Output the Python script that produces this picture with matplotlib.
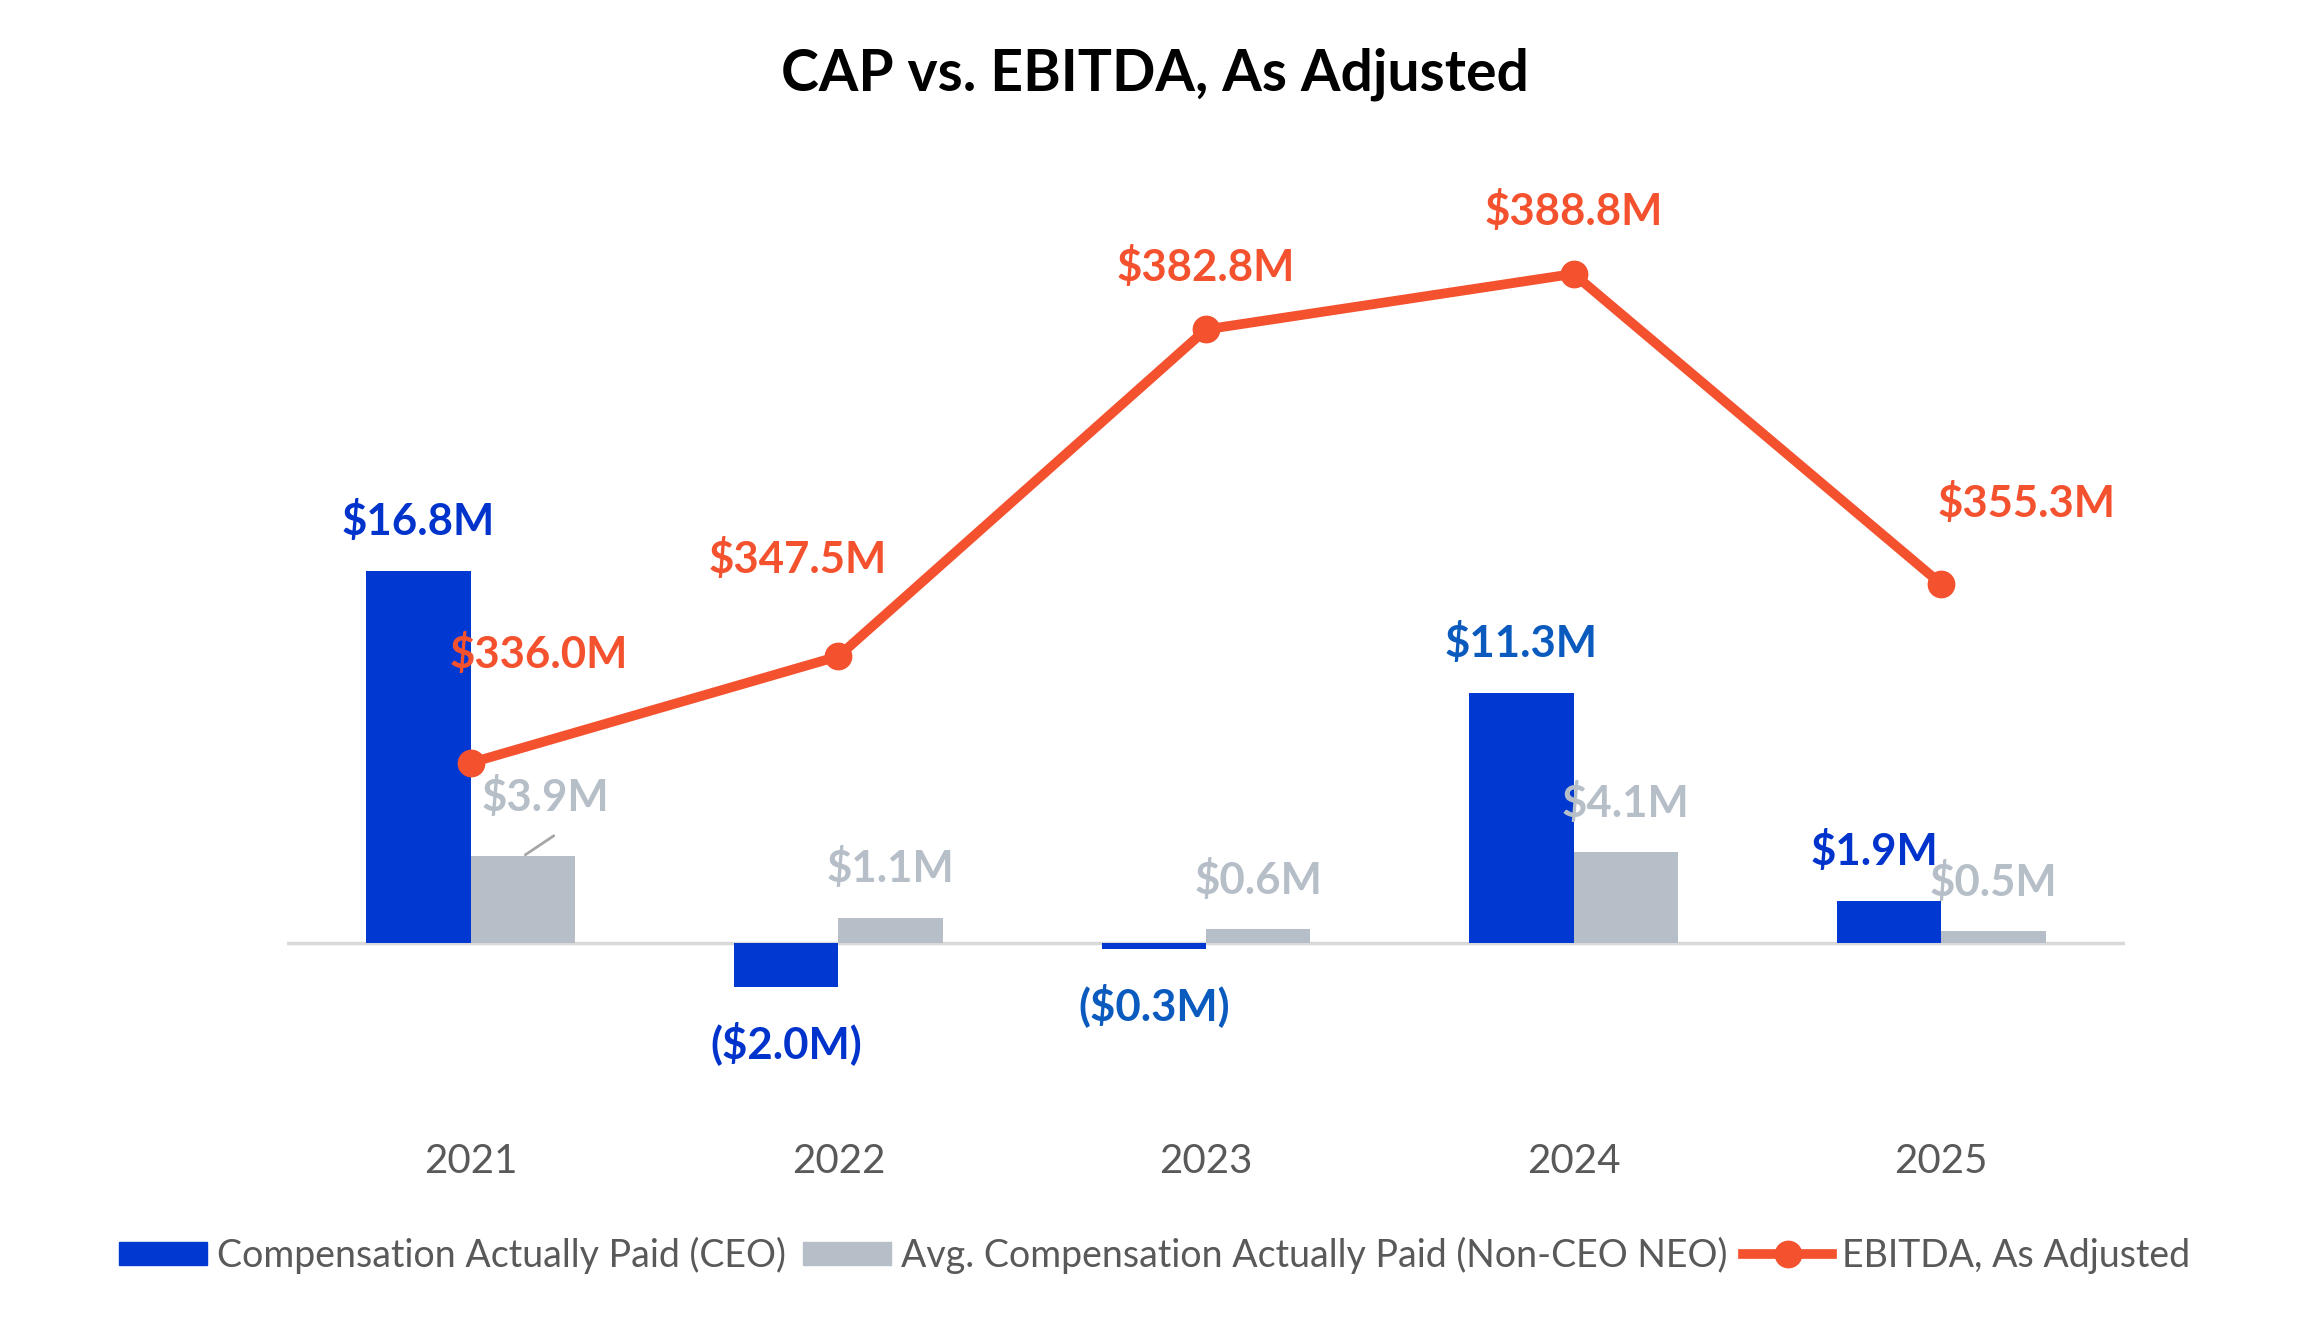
import matplotlib
matplotlib.use("Agg")
import matplotlib.pyplot as plt
from matplotlib.lines import Line2D
from matplotlib.patches import Patch
import numpy as np

years = ["2021", "2022", "2023", "2024", "2025"]
cap_ceo = [16.8, -2.0, -0.3, 11.3, 1.9]
cap_neo = [3.9, 1.1, 0.6, 4.1, 0.5]
ebitda = [336.0, 347.5, 382.8, 388.8, 355.3]

ceo_labels = ["$16.8M", "($2.0M)", "($0.3M)", "$11.3M", "$1.9M"]
neo_labels = ["$3.9M", "$1.1M", "$0.6M", "$4.1M", "$0.5M"]
ebitda_labels = ["$336.0M", "$347.5M", "$382.8M", "$388.8M", "$355.3M"]

BLUE = "#0039D2"
BLUE_LBL = ["#0033CC", "#0033CC", "#0B5BBF", "#0B5BBF", "#0033CC"]
GRAY = "#B6BEC8"
ORANGE = "#F4512F"
TXT = "#595959"

plt.rcParams['font.family'] = ['Lato', 'DejaVu Sans']

W, H = 2309, 1323
fig = plt.figure(figsize=(W / 100, H / 100), dpi=100)
# axes in pixel coordinates
left, right = 287, 2125
top, bottom = 150, 1100
ax = fig.add_axes([left / W, 1 - bottom / H, (right - left) / W, (bottom - top) / H])
ax2 = ax.twinx()

base_y = 942.5
ppm1 = 22.09
ax.set_ylim(-(bottom - base_y) / ppm1, (base_y - top) / ppm1)
ppm2 = 9.26
y336 = 762.8
ax2.set_ylim(336.0 - (bottom - y336) / ppm2, 336.0 + (y336 - top) / ppm2)

x = np.arange(len(years))
bw = 0.284
ax.bar(x - bw / 2, cap_ceo, width=bw, color=BLUE, zorder=2)
ax.bar(x + bw / 2, cap_neo, width=bw, color=GRAY, zorder=2)
ax.axhline(0, color="#D9D9D9", lw=2.5, zorder=1)
ax.set_xlim(-0.5, 4.5)

ax2.plot(x, ebitda, color=ORANGE, lw=7, marker="o", ms=19, zorder=3)

for a in (ax, ax2):
    for s in a.spines.values():
        s.set_visible(False)
    a.set_yticks([])
ax.set_xticks([])
ax2.set_zorder(ax.get_zorder() + 1)

# year labels below the axis
for i, yr in enumerate(years):
    ax.annotate(yr, (x[i], 0), xytext=(0, -219), textcoords="offset pixels",
                ha="center", va="center", fontsize=29, color=TXT)

lbl_fs = 31.5
# CEO labels
ceo_dx = [0, 0, 0, 0, -15]
for i, v in enumerate(cap_ceo):
    dy = 50 if v >= 0 else -56
    ax.annotate(ceo_labels[i], (x[i] - bw / 2, v), xytext=(ceo_dx[i], dy),
                textcoords="offset pixels", ha="center", va="center",
                fontsize=lbl_fs, fontweight="bold", color=BLUE_LBL[i])

# NEO labels
neo_dx = [22, 0, 0, 0, 0]
neo_dy = [59, 50, 49, 49, 49]
for i, v in enumerate(cap_neo):
    ax.annotate(neo_labels[i], (x[i] + bw / 2, v), xytext=(neo_dx[i], neo_dy[i]),
                textcoords="offset pixels", ha="center", va="center",
                fontsize=lbl_fs, fontweight="bold", color=GRAY)
# leader line for 2021 NEO label
ax.annotate("", xy=(x[0] + bw / 2, cap_neo[0]), xytext=(x[0] + bw / 2 + 0.09, cap_neo[0] + 1.0),
            arrowprops=dict(arrowstyle="-", color="#A6A6A6", lw=2))

# EBITDA labels
eb_off = [(68, 109), (-41, 97), (0, 62), (0, 63), (85, 81)]
for i, v in enumerate(ebitda):
    ax2.annotate(ebitda_labels[i], (x[i], v), xytext=eb_off[i], textcoords="offset pixels",
                 ha="center", va="center", fontsize=lbl_fs, fontweight="bold", color=ORANGE)

fig.text(0.5, 1 - 74 / H, "CAP vs. EBITDA, As Adjusted", ha="center", va="center",
         fontsize=41, fontweight="bold", color="black")

handles = [Patch(color=BLUE, label="Compensation Actually Paid (CEO)"),
           Patch(color=GRAY, label="Avg. Compensation Actually Paid (Non-CEO NEO)"),
           Line2D([0], [0], color=ORANGE, lw=7, marker="o", ms=19, label="EBITDA, As Adjusted")]
fig.legend(handles=handles, loc="center", bbox_to_anchor=(0.5, 1 - 1255 / H), ncol=3,
           frameon=False, fontsize=27, labelcolor=TXT, handlelength=2.35, handleheight=0.58,
           handletextpad=0.27, columnspacing=0.43)

fig.savefig("out.png", dpi=100)
